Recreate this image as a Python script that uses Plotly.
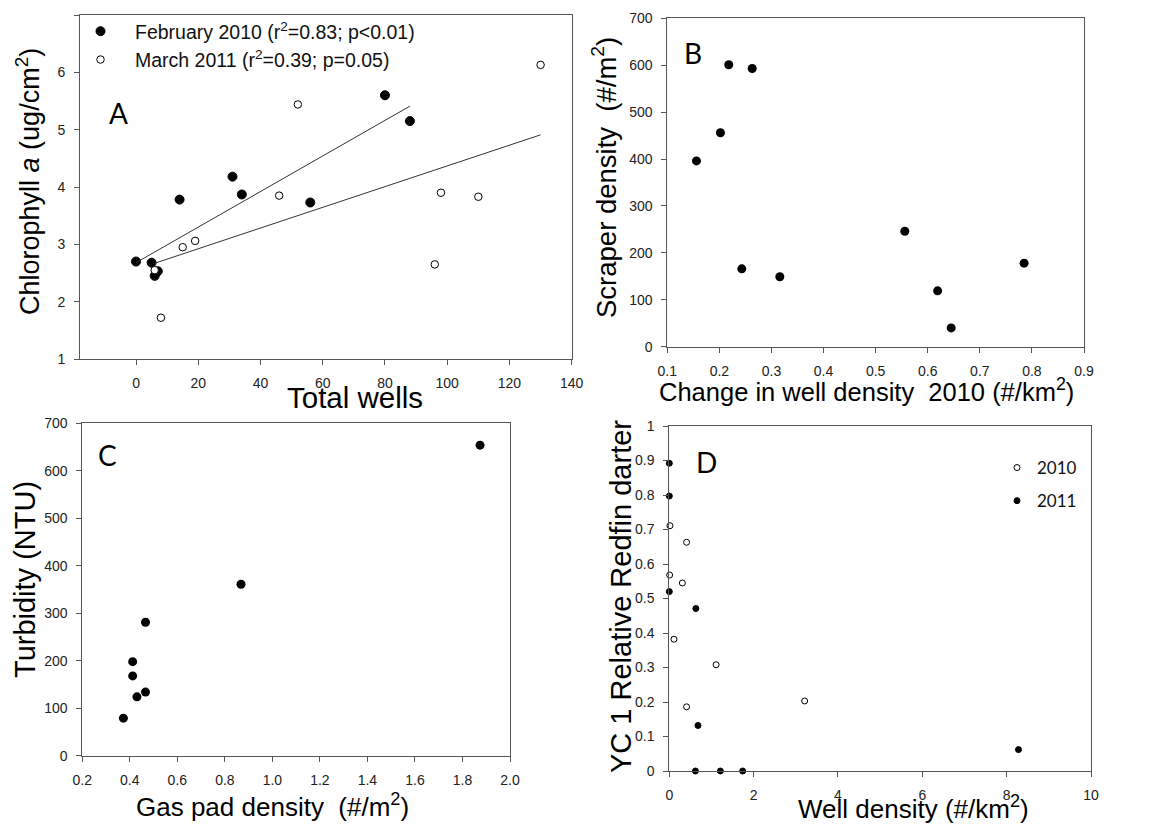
import plotly.graph_objects as go

# Page body has an 8px default margin, so the figure is sized to fit inside it
PAGE_W, PAGE_H, OFF = 1168, 833, 8
W, H = PAGE_W - 2 * OFF, PAGE_H - 2 * OFF

# ---------------- Data ----------------
# Panel A: Total wells vs Chlorophyll a
feb2010_wells = [0, 5, 6, 7, 14, 31, 34, 56, 80, 88]
feb2010_chl = [2.70, 2.68, 2.45, 2.53, 3.78, 4.18, 3.87, 3.73, 5.60, 5.15]
mar2011_wells = [6, 8, 15, 19, 46, 52, 96, 98, 110, 130]
mar2011_chl = [2.55, 1.72, 2.95, 3.06, 3.85, 5.44, 2.65, 3.90, 3.83, 6.13]
feb2010_fit_x = [0, 88]
feb2010_fit_y = [2.68, 5.41]
mar2011_fit_x = [6, 130]
mar2011_fit_y = [2.67, 4.91]

# Panel B: change in well density vs scraper density
well_change_2010 = [0.156, 0.202, 0.218, 0.263, 0.243, 0.316, 0.556, 0.619, 0.645, 0.785]
scraper_density = [396, 456, 601, 593, 166, 149, 246, 119, 40, 178]

# Panel C: gas pad density vs turbidity
gas_pad_density = [0.373, 0.412, 0.412, 0.430, 0.466, 0.466, 0.868, 1.874]
turbidity = [79, 198, 168, 124, 134, 281, 361, 654]

# Panel D: well density vs YC 1 relative redfin darter
wd_2010 = [0.016, 0.41, 0.008, 0.31, 0.11, 1.11, 0.41, 3.21]
darter_2010 = [0.711, 0.663, 0.568, 0.545, 0.382, 0.308, 0.186, 0.203]
wd_2011 = [0.0, 0.0, 0.0, 0.63, 0.68, 0.62, 1.21, 1.74, 8.28]
darter_2011 = [0.892, 0.797, 0.520, 0.471, 0.132, 0.0, 0.0, 0.0, 0.062]

# ---------------- Layout helpers (page pixels -> paper fractions) ----------------
def px(x):
    return (x - OFF) / W

def py(y):
    return 1 - (y - OFF) / H

def xdom(l, r):
    return [px(l), px(r)]

def ydom(t, b):
    return [py(b), py(t)]

TICKFONT = dict(family="Liberation Sans, Arial", size=14, color="#222")
AX = dict(showline=True, linecolor="#555", linewidth=1, mirror=True,
          ticks="outside", ticklen=5, tickcolor="#555", showgrid=False,
          zeroline=False, tickfont=TICKFONT, ticklabelstandoff=6,
          automargin=False)

fig = go.Figure()

filled = dict(color="black", size=9, line=dict(color="black", width=1))
open_ = dict(color="white", size=7.5, line=dict(color="black", width=1))

# Panel A
fig.add_trace(go.Scatter(x=feb2010_wells, y=feb2010_chl, mode="markers",
                         marker=filled, name="February 2010 (r<sup>2</sup>=0.83; p<0.01)",
                         xaxis="x", yaxis="y", legend="legend", cliponaxis=False))
fig.add_trace(go.Scatter(x=mar2011_wells, y=mar2011_chl, mode="markers",
                         marker=open_, name="March 2011 (r<sup>2</sup>=0.39; p=0.05)",
                         xaxis="x", yaxis="y", legend="legend", cliponaxis=False))
fig.add_trace(go.Scatter(x=feb2010_fit_x, y=feb2010_fit_y, mode="lines",
                         line=dict(color="#333", width=1), showlegend=False,
                         xaxis="x", yaxis="y"))
fig.add_trace(go.Scatter(x=mar2011_fit_x, y=mar2011_fit_y, mode="lines",
                         line=dict(color="#333", width=1), showlegend=False,
                         xaxis="x", yaxis="y"))

# Panel B
fig.add_trace(go.Scatter(x=well_change_2010, y=scraper_density, mode="markers",
                         marker=dict(color="black", size=9), showlegend=False,
                         xaxis="x2", yaxis="y2", cliponaxis=False))

# Panel C
fig.add_trace(go.Scatter(x=gas_pad_density, y=turbidity, mode="markers",
                         marker=dict(color="black", size=9), showlegend=False,
                         xaxis="x3", yaxis="y3", cliponaxis=False))

# Panel D
fig.add_trace(go.Scatter(x=wd_2010, y=darter_2010, mode="markers",
                         marker=dict(color="white", size=6, line=dict(color="black", width=1)),
                         name="2010", legend="legend2", legendgroup="a",
                         xaxis="x4", yaxis="y4", cliponaxis=False))
fig.add_trace(go.Scatter(x=wd_2011, y=darter_2011, mode="markers",
                         marker=dict(color="black", size=6, line=dict(color="black", width=1)),
                         name="2011", legend="legend2", legendgroup="b",
                         xaxis="x4", yaxis="y4", cliponaxis=False))

fig.update_layout(
    template="none",
    width=W, height=H, margin=dict(l=0, r=0, t=0, b=0, autoexpand=False),
    paper_bgcolor="white", plot_bgcolor="white",
    font=dict(family="Liberation Sans, Arial", color="black"),
    xaxis=dict(AX, domain=xdom(80, 571.7), range=[-18, 140], tickvals=[0, 20, 40, 60, 80, 100, 120, 140], anchor="y"),
    yaxis=dict(AX, domain=ydom(15, 359), range=[1, 7], dtick=1, anchor="x"),
    xaxis2=dict(AX, domain=xdom(667.3, 1084), range=[0.1, 0.9], dtick=0.1, tickformat=".1f", anchor="y2"),
    yaxis2=dict(AX, domain=ydom(18.3, 346.7), range=[0, 700], dtick=100, anchor="x2"),
    xaxis3=dict(AX, domain=xdom(82.3, 510), range=[0.2, 2.0], dtick=0.2, tickformat=".1f", anchor="y3"),
    yaxis3=dict(AX, domain=ydom(423.3, 755.7), range=[0, 700], dtick=100, anchor="x3"),
    xaxis4=dict(AX, domain=xdom(669.3, 1091), range=[0, 10], dtick=2, anchor="y4"),
    yaxis4=dict(AX, domain=ydom(426, 771), range=[0, 1], dtick=0.1, anchor="x4"),
    legend=dict(x=px(66), y=py(12), xanchor="left", yanchor="top",
                bgcolor="rgba(0,0,0,0)", font=dict(family="Liberation Sans, Arial", size=19.5, color="#111"),
                itemwidth=59, tracegroupgap=0),
    legend2=dict(x=px(997), y=py(450), xanchor="left", yanchor="top",
                 bgcolor="rgba(0,0,0,0)", font=dict(family="Lato", size=17, color="#111"),
                 traceorder="grouped", tracegroupgap=8, itemwidth=30),
)

TITLEFONT = dict(family="Liberation Sans, Arial", size=27, color="black")
LETTERFONT = dict(family="Lato", size=28, color="black")

def ann(text, x, y, angle=0, size=27, font=None):
    f = font if font is not None else dict(TITLEFONT, size=size)
    fig.add_annotation(text=text, x=px(x), y=py(y), xref="paper", yref="paper",
                       showarrow=False, textangle=angle, font=f,
                       xanchor="center", yanchor="middle")

ann("Chlorophyll <i>a</i> (ug/cm<sup>2</sup>)", 28, 182, -90, 27)
ann("Total wells", 355, 397, 0, 29.5)
ann("Scraper density  (#/m<sup>2</sup>)", 605, 178, -90, 27.5)
ann("Change in well density  2010 (#/km<sup>2</sup>)", 866, 390, 0, 25.5)
ann("Turbidity (NTU)", 25, 580, -90, 29)
ann("Gas pad density  (#/m<sup>2</sup>)", 272, 805, 0, 26)
ann("YC 1 Relative Redfin darter", 621, 597, -90, 29)
ann("Well density (#/km<sup>2</sup>)", 913, 807, 0, 26)

ann("A", 118, 113, font=LETTERFONT)
ann("B", 693, 53, font=LETTERFONT)
ann("C", 107, 455, font=LETTERFONT)
ann("D", 706, 462, font=LETTERFONT)

fig.write_html("out.html")
